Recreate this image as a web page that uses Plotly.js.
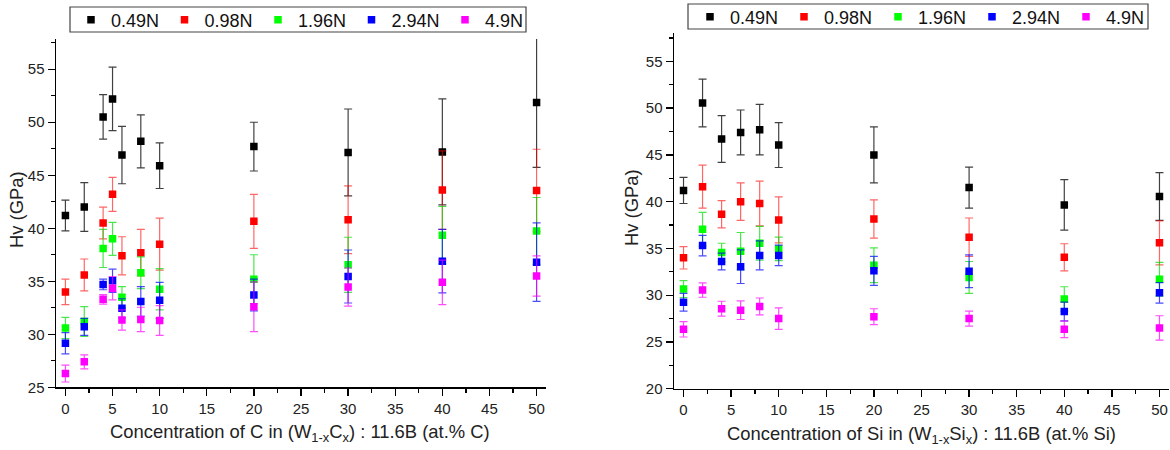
<!DOCTYPE html>
<html>
<head>
<meta charset="utf-8">
<script src="https://cdn.plot.ly/plotly-3.0.1.min.js"></script>
<style>html,body{margin:0;padding:0;background:#fff;}#chart{width:1170px;height:450px;}</style>
</head>
<body>
<div id="chart"></div>
<script>
// ---- Data ----
const loads = ['0.49N', '0.98N', '1.96N', '2.94N', '4.9N'];
const colors = ['#000000', '#ff0000', '#00ff00', '#0000ff', '#ff00ff'];
const errColors = ['rgba(0,0,0,0.75)', 'rgba(255,0,0,0.6)', 'rgba(0,220,0,0.7)', 'rgba(0,0,255,0.7)', 'rgba(255,0,255,0.7)'];

// Left panel: W(1-x)C(x) : 11.6B
const xC = [0, 2, 4, 5, 6, 8, 10, 20, 30, 40, 50];
const hv049C = [41.2, 42.0, 50.5, 52.2, 46.9, 48.2, 45.9, 47.7, 47.15, 47.2, 51.85];
const err049C = [1.45, 2.3, 2.1, 3.0, 2.7, 2.5, 2.15, 2.3, 4.1, 5.0, 6.1];
const hv098C = [34.0, 35.6, 40.5, 43.2, 37.4, 37.7, 38.5, 40.65, 40.8, 43.6, 43.55];
const err098C = [1.2, 1.5, 1.5, 1.6, 1.8, 2.2, 2.45, 2.55, 3.2, 3.7, 3.9];
const hv196C = [30.6, 31.2, 38.1, 39.0, 33.5, 35.8, 34.25, 35.2, 36.55, 39.35, 39.75];
const err196C = [1.0, 1.4, 1.8, 1.55, 1.0, 1.5, 1.95, 2.3, 2.6, 2.7, 3.15];
const hv294C = [29.15, 30.7, 34.7, 35.05, 32.45, 33.1, 33.2, 33.7, 35.45, 36.9, 36.8];
const err294C = [1.0, 0.8, 0.5, 1.1, 0.9, 1.4, 1.7, 1.5, 2.5, 3.0, 3.7];
const hv49C = [26.3, 27.4, 33.3, 34.35, 31.35, 31.4, 31.3, 32.6, 34.45, 34.9, 35.5];
const err49C = [0.8, 0.66, 0.45, 1.1, 0.95, 1.15, 1.4, 2.35, 1.8, 2.1, 1.9];

// Right panel: W(1-x)Si(x) : 11.6B
const xSi = [0, 2, 4, 6, 8, 10, 20, 30, 40, 50];
const hv049Si = [41.2, 50.55, 46.7, 47.4, 47.7, 46.05, 45.0, 41.5, 39.65, 40.55];
const err049Si = [1.4, 2.55, 2.5, 2.4, 2.7, 2.4, 3.0, 2.2, 2.7, 2.55];
const hv098Si = [34.0, 41.6, 38.65, 40.0, 39.8, 38.05, 38.15, 36.2, 34.05, 35.6];
const err098Si = [1.2, 2.3, 1.45, 2.0, 2.4, 2.45, 2.05, 2.05, 1.45, 2.35];
const hv196Si = [30.65, 37.05, 34.55, 34.7, 35.55, 34.95, 33.2, 31.9, 29.6, 31.7];
const err196Si = [0.9, 1.8, 1.0, 2.0, 1.8, 1.25, 1.85, 1.7, 1.3, 1.8];
const hv294Si = [29.25, 35.3, 33.6, 33.05, 34.25, 34.25, 32.6, 32.55, 28.25, 30.25];
const err294Si = [0.95, 1.1, 0.9, 1.8, 1.55, 1.1, 1.55, 1.75, 1.0, 1.1];
const hv49Si = [26.35, 30.55, 28.55, 28.4, 28.8, 27.5, 27.7, 27.5, 26.35, 26.5];
const err49Si = [0.82, 0.77, 0.8, 1.0, 0.9, 1.15, 0.85, 0.8, 0.88, 1.3];

const xTitleC = 'Concentration of C in (W<sub>1-x</sub>C<sub>x</sub>) : 11.6B (at.% C)';
const xTitleSi = 'Concentration of Si in (W<sub>1-x</sub>Si<sub>x</sub>) : 11.6B (at.% Si)';
const yTitle = 'Hv (GPa)';

// ---- Build traces ----
const seriesC = [[hv049C, err049C], [hv098C, err098C], [hv196C, err196C], [hv294C, err294C], [hv49C, err49C]];
const seriesSi = [[hv049Si, err049Si], [hv098Si, err098Si], [hv196Si, err196Si], [hv294Si, err294Si], [hv49Si, err49Si]];

const traces = [];
function addSeries(xs, series, xa, ya, legendId) {
  series.forEach((s, i) => {
    traces.push({
      type: 'scatter', mode: 'markers',
      x: xs, y: s[0], xaxis: xa, yaxis: ya,
      name: loads[i], legend: legendId,
      marker: {symbol: 'square', size: 7.5, color: colors[i], line: {width: 0}},
      error_y: {type: 'data', array: s[1], visible: true, color: errColors[i], thickness: 1.2, width: 4},
      hoverinfo: 'x+y'
    });
  });
}
addSeries(xC, seriesC, 'x', 'y', 'legend');
addSeries(xSi, seriesSi, 'x2', 'y2', 'legend2');

const W = 1170, H = 450;
const font = 'Arial, "Liberation Sans", sans-serif';
const axisCommon = {
  showline: true, linecolor: '#000', linewidth: 1.5, mirror: false,
  ticks: 'outside', ticklen: 7, tickwidth: 1.3, tickcolor: '#000',
  showgrid: false, zeroline: false,
  tickfont: {family: font, size: 15, color: '#222'},
  minor: {ticks: 'outside', ticklen: 4, tickwidth: 1.2, tickcolor: '#000', dtick: 2.5, showgrid: false}
};

const legendCommon = {
  orientation: 'h', xanchor: 'left', yanchor: 'middle',
  entrywidthmode: 'pixels',
  bgcolor: 'rgba(0,0,0,0)', borderwidth: 0,
  font: {family: font, size: 18, color: '#111'},
  itemclick: false
};

const titleFont = {family: font, size: 18.4, color: '#222'};

const layout = {
  width: W, height: H,
  margin: {l: 0, r: 0, t: 0, b: 0, autoexpand: false},
  paper_bgcolor: '#fff', plot_bgcolor: '#fff',
  showlegend: true,
  font: {family: font, color: '#222'},
  xaxis: Object.assign({}, axisCommon, {domain: [56 / W, 546 / W], range: [-1, 51], dtick: 5, tick0: 0, anchor: 'y'}),
  yaxis: Object.assign({}, axisCommon, {domain: [1 - 387.3 / H, 1 - 39 / H], range: [25, 57.85], dtick: 5, tick0: 25, anchor: 'x'}),
  xaxis2: Object.assign({}, axisCommon, {domain: [674 / W, 1169 / W], range: [-1, 51], dtick: 5, tick0: 0, anchor: 'y2'}),
  yaxis2: Object.assign({}, axisCommon, {domain: [1 - 388.7 / H, 1 - 33.3 / H], range: [20, 58], dtick: 5, tick0: 20, anchor: 'x2'}),
  legend: Object.assign({}, legendCommon, {x: 71 / W, y: 1 - 20 / H, entrywidth: 48.5}),
  legend2: Object.assign({}, legendCommon, {x: 690 / W, y: 1 - 17 / H, entrywidth: 49}),
  shapes: [
    {type: 'rect', xref: 'paper', yref: 'paper', x0: 70 / W, x1: 526 / W, y0: 1 - 32 / H, y1: 1 - 7 / H, line: {color: '#444', width: 1.2}, fillcolor: 'rgba(255,255,255,0)', layer: 'above'},
    {type: 'rect', xref: 'paper', yref: 'paper', x0: 688 / W, x1: 1148 / W, y0: 1 - 29 / H, y1: 1 - 4 / H, line: {color: '#444', width: 1.2}, fillcolor: 'rgba(255,255,255,0)', layer: 'above'}
  ],
  annotations: [
    {text: xTitleC, xref: 'paper', yref: 'paper', x: 300 / W, y: 1 - 433 / H, xanchor: 'center', yanchor: 'middle', showarrow: false, font: titleFont},
    {text: xTitleSi, xref: 'paper', yref: 'paper', x: 921 / W, y: 1 - 435 / H, xanchor: 'center', yanchor: 'middle', showarrow: false, font: titleFont},
    {text: yTitle, xref: 'paper', yref: 'paper', x: 16 / W, y: 1 - 210 / H, xanchor: 'center', yanchor: 'middle', textangle: -90, showarrow: false, font: titleFont},
    {text: yTitle, xref: 'paper', yref: 'paper', x: 631 / W, y: 1 - 208 / H, xanchor: 'center', yanchor: 'middle', textangle: -90, showarrow: false, font: titleFont}
  ]
};

Plotly.newPlot('chart', traces, layout, {staticPlot: true, displayModeBar: false});
</script>
</body>
</html>
